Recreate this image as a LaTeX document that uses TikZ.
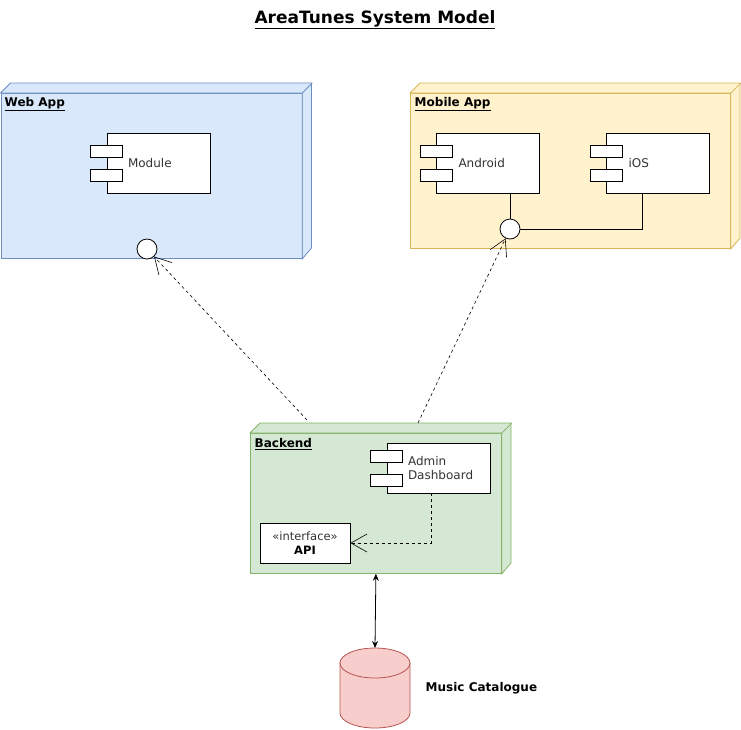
\documentclass[tikz,border=0pt]{standalone}
\usepackage{fontspec}
\setmainfont{DejaVu Sans}
\usetikzlibrary{arrows.meta,positioning}

\definecolor{webfill}{HTML}{DAE8FC}
\definecolor{webline}{HTML}{6C8EBF}
\definecolor{mobfill}{HTML}{FFF2CC}
\definecolor{mobline}{HTML}{D6B656}
\definecolor{backfill}{HTML}{D5E8D4}
\definecolor{backline}{HTML}{82B366}
\definecolor{catfill}{HTML}{F8CECC}
\definecolor{catline}{HTML}{B85450}
\definecolor{textgray}{HTML}{333333}

% the two little tabs on the left edge of a component
\newcommand\umlstubs[1]{%
  \node[stub] (#1-a) at ([yshift=12]#1.west) {};
  \node[stub] (#1-b) at ([yshift=-12]#1.west) {};}

\begin{document}
\begin{tikzpicture}[x=1pt, y=-1pt, line width=0.8pt,
    font=\fontsize{12}{14}\selectfont,
    face/.style={draw, anchor=north west, inner sep=0pt},
    boxlabel/.style={anchor=west, font=\fontsize{12}{14}\selectfont\bfseries},
    comp/.style={draw=black, fill=white, minimum width=103, minimum height=60, inner sep=0pt},
    stub/.style={draw=black, fill=white, minimum width=32, minimum height=12, inner sep=0pt},
    comptext/.style={anchor=west, text=textgray, align=left, inner sep=0pt},
    port/.style={circle, draw=black, fill=white, minimum size=20, inner sep=0pt},
    dep/.style={dash pattern=on 3pt off 3pt, line width=0.6pt,
      -{Straight Barb[length=16, width=18, line width=0.6pt]}}]

  \useasboundingbox (0,0) rectangle (741,729);

  % Title
  \node[font=\fontsize{17}{20}\selectfont\bfseries] (title) at (375,20) {\underline{AreaTunes System Model}};

  % Web App node
  \node[face, fill=webfill, draw=webline, minimum width=301, minimum height=165] (webapp) at (0.5,93) {};
  \filldraw[fill=webfill, draw=webline] (webapp.north west) -- ++(10,-10) -- ++(301,0) -- ++(0,165)
    -- (webapp.south east) -- (webapp.north east) -- cycle;
  \draw[webline] (webapp.north east) -- ++(10,-10);
  \node[boxlabel] (weblabel) at (1,104) {\underline{Web App}};

  \node[comp] (module) at (158.5,163) {};
  \umlstubs{module}
  \node[comptext] (moduletext) at ([xshift=21]module.west) {Module};
  \node[port] (webport) at (147,249) {};

  % Mobile App node
  \node[face, fill=mobfill, draw=mobline, minimum width=320, minimum height=155] (mobapp) at (410,93) {};
  \filldraw[fill=mobfill, draw=mobline] (mobapp.north west) -- ++(10,-10) -- ++(320,0) -- ++(0,155)
    -- (mobapp.south east) -- (mobapp.north east) -- cycle;
  \draw[mobline] (mobapp.north east) -- ++(10,-10);
  \node[boxlabel] (moblabel) at (411,104) {\underline{Mobile App}};

  \node[comp] (android) at (488,163) {};
  \umlstubs{android}
  \node[comptext] (androidtext) at ([xshift=22]android.west) {Android};
  \node[comp] (ios) at (658,163) {};
  \umlstubs{ios}
  \node[comptext] (iostext) at ([xshift=22]ios.west) {iOS};
  \node[port] (mobport) at (510,229) {};
  \draw (mobport.north) -- (mobport.north |- android.south);
  \draw (mobport.east) -| ([xshift=-16]ios.south);

  % Backend node
  \node[face, fill=backfill, draw=backline, minimum width=251, minimum height=140] (backend) at (250,433) {};
  \filldraw[fill=backfill, draw=backline] (backend.north west) -- ++(10,-10) -- ++(251,0) -- ++(0,140)
    -- (backend.south east) -- (backend.north east) -- cycle;
  \draw[backline] (backend.north east) -- ++(10,-10);
  \node[boxlabel] (backlabel) at (251,444) {\underline{Backend}};

  \node[comp, minimum height=50] (admin) at (438.5,468) {};
  \umlstubs{admin}
  \node[comptext] (admintext) at ([xshift=21]admin.west) {Admin\\Dashboard};
  \node[draw=black, fill=white, minimum width=90, minimum height=40, inner sep=0pt, align=center,
    font=\fontsize{11.5}{14}\selectfont] (api) at (305,543) {\textcolor{textgray}{«interface»}\\\textbf{API}};
  \draw[dep] ([xshift=-7.5]admin.south) |- (api.east);

  % Dependencies to the ports
  \coordinate (webdep) at (307,420);
  \coordinate (mobdep) at (418,423);
  \draw[dep] (webdep) -- (webport);
  \draw[dep] (mobdep) -- (mobport);

  % Music catalogue database
  \filldraw[fill=catfill, draw=catline] (340,663) -- (340,713) arc[start angle=180, end angle=0, x radius=35, y radius=15]
    -- (410,663) -- cycle;
  \filldraw[fill=catfill, draw=catline] (375,663) ellipse [x radius=35, y radius=15];
  \coordinate (catalogue) at (375,648);
  \node[anchor=west, font=\fontsize{12}{14}\selectfont\bfseries] (cattext) at (422,688) {Music Catalogue};

  \draw[{Stealth[length=7, width=6]}-{Stealth[length=7, width=6]}] (backend.south) -- (catalogue);

\end{tikzpicture}
\end{document}
